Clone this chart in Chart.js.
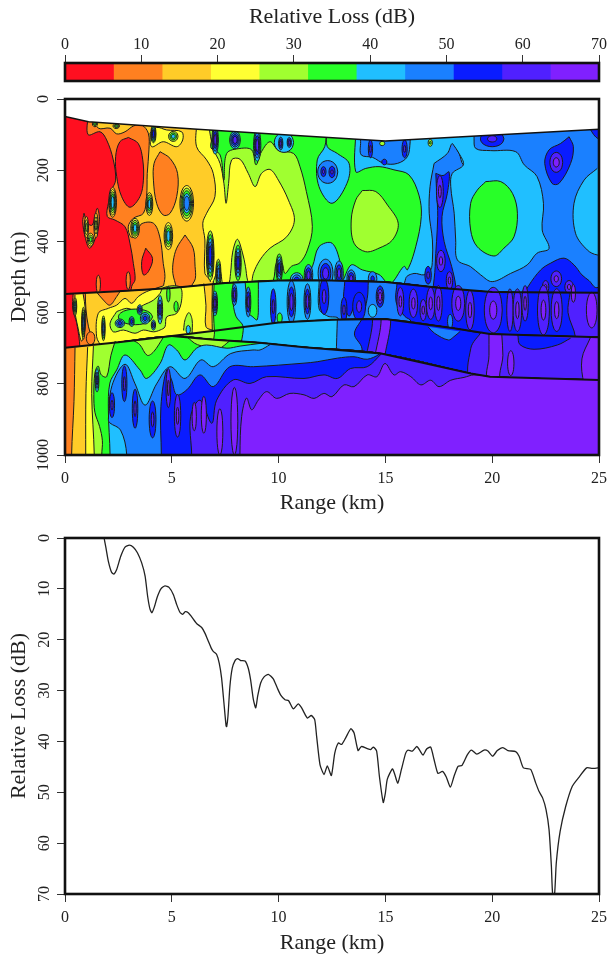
<!DOCTYPE html>
<html>
<head>
<meta charset="utf-8">
<script src="https://cdn.jsdelivr.net/npm/chart.js@4/dist/chart.umd.min.js"></script>
<style>
html, body { margin: 0; background: #fff; }
canvas { position: absolute; left: 0; filter: blur(0.4px); }
</style>
</head>
<body>
<canvas id="barCanvas" width="608" height="90" style="top:0"></canvas>
<canvas id="fieldCanvas" width="608" height="430" style="top:90px"></canvas>
<canvas id="lossCanvas" width="608" height="438" style="top:520px"></canvas>
<script>
// colour bar
const bandEdges = [0, 6.36, 12.73, 19.09, 25.45, 31.82, 38.18, 44.55, 50.91, 57.27, 63.64, 70];
const bandColors = ["#ff0f20", "#ff8020", "#ffcc28", "#ffff33", "#a0ff30", "#28ff28", "#20bfff", "#1a80ff", "#0a1cff", "#5020ff", "#8020ff"];

// range-depth interfaces [km, m]
const surfaceLine = [[-1,45],[0,49],[1.1,64],[4.45,78],[6.2,85],[11.2,104],[15,118],[25,85],[26,82]];
const interfaceA = [[-1,550],[0,548],[2.5,540],[5,531],[7.5,517],[10,510],[12.5,510],[15,514],[17.5,530],[20,542],[25,544],[26,544]];
const interfaceB = [[-1,705],[0,699],[2.5,683],[5,666],[7,651],[10,628],[12.5,620],[15,618],[18.2,644],[19.9,660],[25,669],[26,670]];
const interfaceC = [[5,666],[7,676],[9,684],[11.2,697],[14.8,715],[19,771],[19.9,780],[25,789],[26,790]];
const floorTop = [[-1,705],[0,699],[2.5,683],[5,666],[7,676],[9,684],[11.2,697],[14.8,715],[19,771],[19.9,780],[25,789],[26,790]];

// upper water: contours, painted in this order
const upOrange = [[1.09,40],[1.08,100],[1.64,92],[1.95,115],[2.26,171],[2.37,228],[2.18,256],[2.03,293],[1.98,330],[2.34,340],[2.81,359],[3.04,405],[3.2,462],[3.28,508],[3.12,527],[3.1,600],[26,600],[26,0],[1.09,0]];
const upRedBig = [[2.97,108],[3.43,125],[3.64,171],[3.67,228],[3.51,274],[3.04,304],[2.65,274],[2.42,218],[2.37,162],[2.57,120],[2.97,108]];
const upRedSmall = [[3.78,419],[4.1,448],[3.9,485],[3.67,494],[3.59,457],[3.78,419]];
const upWedge = [[0.89,321],[1.05,349],[1.28,354],[1.51,307],[1.61,345],[1.36,401],[1.14,419],[0.94,387],[0.83,345],[0.89,321]];
const upGold = [[1.33,50],[1.56,82],[2.11,82],[2.42,98],[2.81,92],[3.2,76],[3.59,73],[3.9,96],[3.93,143],[3.85,209],[3.82,274],[3.67,321],[3.2,335],[2.96,359],[3.1,388],[3.4,383],[3.55,352],[4.14,349],[4.45,391],[4.6,462],[4.68,499],[4.6,532],[4.6,600],[26,600],[26,0],[1.33,0]];
const upOrangeEgg = [[4.45,148],[4.92,167],[5.27,209],[5.23,274],[4.92,321],[4.6,326],[4.29,293],[4.14,228],[4.17,181],[4.45,148]];
const upOrangeTongue = [[5.62,382],[6,419],[6.09,471],[6.1,505],[5.9,530],[5.9,600],[5.2,600],[5.2,530],[5.05,490],[5.07,455],[5.23,419],[5.62,382]];
const upYellowPatch = [[3.98,96],[4.06,134],[4.6,120],[5.23,134],[5.51,115],[5.46,92],[4.76,87],[4.29,80],[3.98,96]];
const upYellow = [[6.16,70],[6.16,134],[6.63,171],[6.94,209],[7.02,274],[6.63,321],[6.45,349],[6.55,396],[6.55,490],[6.8,510],[6.85,600],[26,600],[26,0],[6.16,0]];
const upLime = [[6.71,70],[6.94,139],[7.26,181],[7.44,237],[7.54,293],[7.66,237],[7.8,171],[8.19,169],[8.58,209],[8.9,246],[9.2,209],[9.6,198],[9.99,228],[10.46,284],[10.74,340],[10.38,387],[9.6,419],[9.13,452],[8.82,490],[8.7,525],[8.55,510],[8.45,471],[8.3,430],[8.07,394],[7.85,430],[7.75,490],[7.65,520],[7.4,520],[7.3,490],[7.18,468],[7.05,495],[6.9,525],[6.9,600],[26,600],[26,0],[6.71,0]];
const upGreen = [[7.18,70],[6.82,134],[7.26,157],[7.44,228],[7.57,153],[8.19,139],[8.74,143],[8.94,185],[9.2,148],[9.6,120],[10,145],[10.7,153],[11,190],[11.3,260],[11.58,358],[11.35,424],[11,460],[10.6,470],[10.3,490],[10.15,460],[9.9,460],[9.75,510],[9.5,520],[9.3,540],[9.3,600],[26,600],[26,0],[7.18,0]];
const upSkyTongue = [[12.25,90],[12.16,134],[11.81,171],[11.89,246],[12.5,293],[13.2,237],[13.3,181],[12.75,153],[12.28,134],[12.25,90]];
const upSky = [[13.61,90],[13.61,204],[14.08,195],[14.7,190],[15.4,199],[16.1,213],[16.57,270],[16.68,330],[16.42,415],[16.03,480],[15.87,470],[15.2,520],[14.7,493],[13.92,480],[13.4,466],[13,508],[12.9,462],[12.5,405],[11.89,415],[11.58,471],[11.27,499],[11,530],[11,600],[26,600],[26,0],[13.61,0]];
const upLimeIsle = [[13.92,257],[14.55,260],[15.1,298],[15.6,349],[15.33,396],[14.7,419],[14.08,429],[13.53,405],[13.4,340],[13.61,284],[13.92,257]];
const upAzureTop = [[13.84,90],[13.84,120],[13.87,157],[14.4,164],[14.94,181],[15.56,181],[16.03,162],[16.16,120],[16.16,90]];
const upAzure = [[17.28,181],[17.9,153],[18.14,125],[18.45,153],[18.65,185],[19,185],[19,0],[26,0],[26,600],[15.9,600],[15.95,504],[16.34,490],[16.81,494],[17.12,480],[17.2,452],[17.2,396],[17.05,321],[17.09,246],[17.28,181]];
const upSkyMid = [[18.14,125],[18.45,153],[18.65,185],[18.13,209],[18.06,246],[18.22,321],[18.29,396],[18.37,452],[18.99,471],[19.46,494],[20,513],[20.86,490],[21.64,466],[22.1,433],[22.66,420],[22.34,368],[22.4,293],[22.1,218],[21.5,185],[21.1,148],[19.93,145],[19.23,139],[19.15,110],[19.15,70],[18.14,70]];
const upSkyRight = [[24.92,195],[24.3,228],[23.83,293],[23.9,377],[24.45,424],[24.92,438],[26,440],[26,190]];
const upGreenIsle = [[19.7,232],[20.4,232],[20.95,265],[21.18,321],[21.02,387],[20.55,419],[20.08,441],[19.3,415],[18.99,368],[18.99,293],[19.3,256],[19.7,232]];
const upDeepColumn = [[17.36,209],[17.7,215],[17.98,205],[17.9,265],[17.65,330],[17.75,400],[18.1,470],[18.3,530],[18.3,600],[17.3,600],[17.33,470],[17.45,330],[17.4,265],[17.36,209]];
const upDeepHump = [[21.4,600],[21.4,560],[21.7,525],[22.27,480],[22.74,461],[23.36,447],[23.83,466],[24.2,494],[24.53,510],[24.9,530],[26,500],[26,600]];
const upDeepBlob = [[23.6,106],[23.8,134],[23.67,181],[23.13,237],[22.8,237],[22.46,181],[22.66,143],[23.2,125],[23.6,106]];
const upDeepCorner = [[24.55,80],[24.75,100],[25,112],[26,112],[26,60]];

// middle layer, region to the right of each contour
const midOrange = [[0.38,547],[0.36,590],[0.55,630],[0.7,700],[0.7,800]];
const midYellowLeft = [[0.47,550],[0.45,590],[0.6,640],[0.78,680],[0.95,640],[0.95,590],[0.85,548]];
const midGold = [[0.95,545],[0.98,590],[1.1,640],[1.33,687],[1.33,800]];
const midOrangePatch = [[1.45,540],[1.8,565],[2.1,579],[2.42,555],[2.6,538]];
const midYellow = [[4.6,525],[3.82,541],[3.43,555],[3.12,574],[2.81,560],[2.42,579],[2.03,588],[1.56,602],[1.48,668],[1.7,700],[1.7,800]];
const midLimePatch = [[2.42,597],[2.89,588],[3.28,593],[3.67,579],[4.14,565],[4.45,546],[4.6,530],[5.38,528],[5.46,565],[5.23,602],[4.76,612],[4.68,640],[4.45,649],[4.14,654],[3.67,649],[3.28,658],[2.73,649],[2.26,654],[2.11,630],[2.42,597]];
const midLimeSmall = [[5.55,650],[5.62,620],[5.8,600],[5.95,620],[5.95,662]];
const midGoldRight = [[6.5,518],[6.6,580],[6.6,640],[6.94,645],[6.94,512]];
const midLime = [[6.9,518],[6.88,600],[6.9,660],[6.9,800]];
const midGreen = [[6.98,518],[6.95,600],[7,660],[7,800]];
const midSky = [[7.88,513],[7.85,560],[8,610],[8.35,640],[8.6,800]];
const midGreenFinger = [[8.43,512],[8.5,560],[8.55,600],[8.75,610],[9,620],[9.05,560],[9.05,510]];
const midAzure = [[11.9,508],[11.9,590],[12.3,610],[12.8,618],[12.8,800]];
const midDeepPatch = [[13.1,512],[13.05,570],[13.3,610],[13.6,580],[13.9,610],[14.15,560],[14.2,512]];
const midDeep = [[15.55,515],[15.5,570],[15.9,610],[16.2,625],[16.2,800]];
const midIndigo = [[23.65,543],[23.55,600],[23.9,670],[23.9,800]];

// wedge between interfaces B and C
const wedgeGreen = [[7,651],[7,800]];
const wedgeSky = [[8.35,640],[8.35,800]];
const wedgeAzure = [[12.75,620],[12.7,720],[12.7,800]];
const wedgeDeep = [[13.9,618],[13.55,660],[13.9,700],[13.9,800]];
const wedgeIndigo = [[14.4,618],[14.4,800]];
const wedgePurple = [[14.8,618],[14.8,800]];
const wedgeDeep2 = [[15.25,620],[15.25,800]];
const wedgeAzureBump = [[17,640],[17.3,658],[17.95,677],[18.2,668],[18.5,653]];
const wedgeIndigo2 = [[19.5,654],[19,700],[19.05,800]];
const wedgePurple2 = [[19.85,660],[19.85,720],[19.85,800]];
const wedgeIndigo3 = [[20.45,663],[20.5,720],[20.45,800]];
const wedgeDeepBump = [[21.2,663],[21.3,690],[21.96,703],[23.05,691],[23.67,672]];
const wedgePurple3 = [[24.6,670],[24.2,730],[24.3,800]];

// floor layer, value above each level to the right of the contour
const floorGold = [[0.47,698],[0.42,850],[0.31,1000],[0.31,1200]];
const floorYellow = [[1.06,697],[0.98,827],[0.97,1000],[0.97,1200]];
const floorLime = [[1.33,694],[1.25,827],[1.37,1000],[1.37,1200]];
const floorGreen = [[2.35,680],[2.15,720],[1.95,780],[1.7,775],[1.55,750],[1.4,770],[1.35,830],[1.4,880],[1.62,920],[1.75,960],[1.72,1000],[1.72,1200]];
const floorLimeHumpA = [[3.2,678],[3.5,690],[3.85,720],[4.15,710],[4.6,670]];
const floorLimeHumpB = [[5.7,668],[6.2,690],[7.2,700],[7.7,680]];
const floorSky = [[9.2,686],[8.2,694],[7.58,700],[6.63,691],[6.16,700],[5.62,733],[5.23,705],[4.84,691],[4.45,743],[3.82,785],[3.51,761],[2.81,719],[2.42,761],[2.1,798],[2.03,874],[2.11,1000],[2.11,1200]];
const floorAzure = [[9.6,690],[9.13,705],[8.8,705],[7.76,715],[6.94,752],[6.36,733],[5.62,785],[4.92,752],[4.29,800],[3.75,860],[3.28,800],[2.81,745],[2.2,805],[2.03,900],[2.1,910],[2.6,930],[2.89,1000],[2.89,1200]];
const floorDeep = [[14.6,714],[14.71,717],[14.15,731],[13.53,724],[12.75,728],[11.81,738],[11.19,742],[8.82,752],[7.72,752],[6.94,808],[6.32,775],[5.7,817],[5.23,831],[4.99,789],[4.76,761],[4.49,864],[4.51,1000],[4.51,1200]];
const floorIndigo = [[14.81,716],[14.15,752],[13.37,757],[12.75,785],[12.13,775],[11.19,785],[9.44,780],[8.66,799],[7.88,789],[7.1,846],[6.87,911],[6.32,846],[5.88,892],[5.93,1000],[5.93,1200]];
const floorPurple = [[19.93,780],[19.15,775],[18.68,782],[18.06,790],[17.51,808],[17.12,790],[16.66,803],[16.19,780],[15.71,766],[15.4,775],[14.98,743],[14.6,780],[14.15,775],[13.53,808],[13.06,803],[12.5,836],[12.12,827],[11.66,841],[11.19,831],[10.53,827],[9.91,841],[9.44,822],[9.05,846],[8.74,873],[8.5,840],[8.27,892],[8.19,1000],[8.19,1200]];

// closed pockets: km, depth, half width, half height, outer band, inner band
const upperSpots = [
  [1,360,.1,30,2,4],[1.45,355,.1,35,2,4],[1.2,395,.15,18,3,5],[2.23,290,.18,42,2,6],[3.95,295,.16,32,3,6],
  [5.7,293,.32,50,3,7],[3.28,363,.2,28,3,6],[4.84,385,.2,38,3,6],[6.8,440,.18,70,4,8],[7.18,490,.12,40,4,7],
  [8.1,460,.15,50,5,8],[10.03,475,.15,40,5,8],[10.85,508,.3,20,6,8],[4.14,98,.12,25,4,8],[5.07,105,.22,14,4,6],
  [1.4,70,.12,8,3,5],[2.4,76,.15,7,3,5],[7.03,115,.15,40,6,9],[7.96,115,.25,25,6,9],[9,130,.17,45,6,9],
  [10.25,122,.45,28,6,6],[10.1,125,.1,18,7,9],[10.5,122,.1,14,7,9],[12.3,205,.47,32,7,7],[12.1,204,.12,14,8,9],[12.5,205,.14,16,8,9],[14.85,125,.12,6,4,4],
  [17.1,123,.1,10,4,5],[14.3,140,.1,25,8,9],[14.95,177,.12,8,8,8],[15.9,140,.12,25,8,9],[20,112,.55,22,8,9],
  [23,178,.3,28,9,9],[23,178,.14,13,10,10],[17.55,260,.16,45,9,10],[17.6,455,.2,30,9,10],[18,510,.15,25,9,10],
  [12.2,490,.35,40,7,9],[12.83,490,.2,35,7,9],[11.4,495,.2,30,7,9],[13.4,505,.2,25,7,9],[14.4,505,.2,20,7,8],
  [17,495,.15,25,8,9],[23,505,.25,22,9,10],[22.5,528,.15,18,9,10],[23.6,528,.2,18,9,10],[1.56,520,.1,25,1,1],[2.96,510,.1,25,1,1]
];
const middleSpots = [
  [.86,630,.08,45,3,7],[1.8,644,.08,35,4,7],[.47,583,.08,25,3,6],[1.2,672,.2,18,1,1],[3.3,612,.8,22,5,5],
  [2.57,630,.22,12,6,8],[3.12,625,.12,14,6,8],[3.75,616,.22,16,6,8],[3.5,592,.12,14,6,8],[4.14,635,.1,14,6,8],[4.45,592,.12,40,6,8],
  [5.77,648,.1,12,6,6],[4.84,548,.08,22,5,5],[5.2,583,.1,15,5,5],[7.02,574,.12,35,6,9],[7.93,550,.12,30,7,9],
  [8.58,570,.12,42,7,9],[10.05,615,.12,14,5,5],[9.75,583,.13,50,8,9],[10.6,570,.2,60,7,9],[11.35,569,.16,50,7,9],[12.13,555,.22,50,8,9],
  [13.06,592,.14,35,8,9],[13.77,583,.3,40,8,9],[14.4,595,.2,18,6,6],[14.75,555,.18,30,8,10],[15.7,569,.16,40,9,10],
  [18.03,625,.12,20,7,7],[16.31,574,.2,40,9,10],[16.77,593,.15,30,9,10],[17.12,574,.2,45,9,10],[17.48,574,.18,50,9,10],[18.41,574,.3,50,9,10],
  [18.96,593,.2,55,9,10],[20.05,593,.42,64,9,10],[20.83,593,.15,60,9,9],[21.18,593,.2,60,9,10],[21.54,574,.15,50,9,10],[22.4,593,.28,70,9,10],
  [23.02,593,.26,60,9,10]
];
const middleSpotsRight = [[24.66,593,.25,50,10,10],[23.8,546,.1,25,10,10]];
const floorSpots = [
  [1.5,790,.09,33,6,8],[2.2,860,.12,35,8,9],[2.78,800,.12,50,8,9],[3.28,870,.13,55,8,9],[4.1,900,.16,52,8,9],
  [4.84,812,.11,55,9,10],[5.27,890,.15,60,9,10],[6.05,892,.1,40,10,10],[6.5,887,.12,52,10,10],[7.25,935,.14,65,10,10],[7.93,905,.16,95,10,10]
];
const wedgeSpots = [[20.87,742,.15,35,10,10]];

// lower panel: loss along range
const rangeKm = [1.83,1.92,2.03,2.18,2.29,2.42,2.61,2.81,3.01,3.2,3.39,3.59,3.75,3.87,3.98,4.07,4.18,4.32,4.49,4.68,4.87,5.07,5.23,5.38,5.51,5.63,5.77,5.93,6.16,6.4,6.55,6.71,6.84,6.94,7.1,7.22,7.33,7.44,7.54,7.57,7.63,7.72,7.83,7.96,8.08,8.22,8.43,8.58,8.69,8.82,8.93,9.02,9.16,9.32,9.52,9.75,9.94,10.1,10.3,10.47,10.69,10.92,11.08,11.19,11.35,11.53,11.69,11.78,11.94,12.13,12.28,12.47,12.63,12.8,12.95,13.14,13.38,13.53,13.72,13.87,14.15,14.31,14.44,14.59,14.72,14.9,15,15.09,15.33,15.44,15.58,15.75,15.95,16.06,16.26,16.47,16.63,16.76,16.93,17.12,17.28,17.46,17.67,17.85,18.04,18.21,18.4,18.59,18.84,19.03,19.28,19.62,19.8,20.02,20.24,20.5,20.74,21.1,21.26,21.46,21.8,22.04,22.19,22.36,22.52,22.66,22.77,22.83,22.92,23,23.18,23.44,23.75,24.07,24.42,24.69,24.95,25];
const lossDb = [0,2,4.6,6.75,7.1,6.2,3.6,1.8,1.4,1.8,2.9,4.9,7.5,11.5,14,14.7,13.6,11.6,10,9.4,9.7,11.1,13.1,14.6,15,14.5,14.7,15.5,16.8,17.6,18.7,20.3,21.6,22.3,22.9,24.6,27.5,32.4,36.9,37.1,35,29.2,25.6,24.1,23.7,24.1,24.2,25.6,27.9,31.8,33.4,31.1,28.5,27.3,26.8,27.7,29.5,30.9,31.8,32,33.6,32.6,33.4,34.3,35.4,34.9,35.7,39,44.6,46.5,44.8,46.7,42.3,40.3,40.6,39.3,37.5,38.3,41.8,41,41.4,41.6,41.1,41.9,46.9,52,50.1,47.4,45.4,46.5,48.2,45.5,42.3,41.7,41.9,41,41.9,42.7,41.5,41.1,43.6,46.3,45.9,47,49,46.9,44.9,44.7,42.6,41.7,42.5,41.7,41.9,42.9,41.8,41.2,41.8,42,42.9,45.2,45.5,48.2,49.8,51.1,53.4,57.3,64.5,70,70,63.9,57.7,52.8,48.8,47,45.2,45.3,45.2,45.1];

const serif = "'Liberation Serif', serif";
const inkColor = "#1c1c1c";
Chart.defaults.animation = false;
Chart.defaults.events = [];
Chart.defaults.responsive = false;
Chart.defaults.font.family = serif;
Chart.defaults.color = "#222";
Chart.defaults.plugins.legend.display = false;
Chart.defaults.plugins.tooltip.enabled = false;

const framePlugin = {
  id: "frame",
  afterDraw(chart) {
    const a = chart.chartArea, ctx = chart.ctx;
    ctx.save();
    ctx.strokeStyle = "#111";
    ctx.lineWidth = 2.6;
    ctx.strokeRect(a.left, a.top, a.right - a.left, a.bottom - a.top);
    ctx.restore();
  }
};
function noEdgePadding(s) { s.paddingLeft = 0; s.paddingRight = 0; s.paddingTop = 0; s.paddingBottom = 0; }

function rangeAxis(title, fixedHeight, titleGap) {
  return {
    type: "linear", min: 0, max: 25,
    grid: { display: true, drawOnChartArea: false, drawTicks: true, tickLength: 8, tickColor: "#333", lineWidth: 1 },
    border: { display: false },
    ticks: { stepSize: 5, font: { size: 16 }, padding: 6, maxRotation: 0, autoSkip: false },
    title: { display: true, text: title, font: { size: 22 }, padding: { top: 0, bottom: titleGap } },
    afterFit(s) { s.height = fixedHeight; noEdgePadding(s); }
  };
}
function depthAxis(title, max, step, tickGap) {
  return {
    type: "linear", reverse: true, min: 0, max: max,
    grid: { display: true, drawOnChartArea: false, drawTicks: true, tickLength: 8, tickColor: "#333", lineWidth: 1 },
    border: { display: false },
    ticks: { stepSize: step, font: { size: 16 }, padding: tickGap, minRotation: 90, maxRotation: 90, crossAlign: "center", autoSkip: false, callback: v => String(v) },
    title: { display: true, text: title, font: { size: 22 }, padding: { top: 6, bottom: 0 } },
    afterFit(s) { s.width = 65; noEdgePadding(s); }
  };
}

// colour bar
new Chart(document.getElementById("barCanvas"), {
  type: "bar",
  data: {
    labels: [""],
    datasets: bandColors.map((c, i) => ({
      data: [[bandEdges[i], bandEdges[i + 1]]], backgroundColor: c, borderWidth: 0,
      barPercentage: 1, categoryPercentage: 1, grouped: false
    }))
  },
  options: {
    indexAxis: "y",
    layout: { padding: { left: 65, right: 9, bottom: 9 } },
    scales: {
      x: {
        type: "linear", position: "top", min: 0, max: 70,
        grid: { display: true, drawOnChartArea: false, drawTicks: true, tickLength: 8, tickColor: "#333" },
        border: { display: false },
        ticks: { stepSize: 10, font: { size: 16 }, padding: 1, maxRotation: 0 },
        title: { display: true, text: "Relative Loss (dB)", font: { size: 22 }, padding: { top: 4, bottom: 0 } },
        afterFit(s) { s.height = 63; noEdgePadding(s); }
      },
      y: { display: false }
    }
  },
  plugins: [framePlugin]
});

// contour field
const paint = [];
function shape(points, band, extra) {
  paint.push(Object.assign({
    data: points.map(p => ({ x: p[0], y: p[1] })),
    backgroundColor: bandColors[band], borderColor: inkColor, borderWidth: 1,
    fill: "shape", tension: 0.35, pointRadius: 0
  }, extra || {}));
}
function plain(points, band) { shape(points, band, { tension: 0, borderWidth: 0 }); }
// contour, then down the far side and back along the interface above it
function below(contour, iface, band) {
  const start = contour[0][0];
  const back = iface.filter(p => p[0] > start).reverse();
  shape([...contour, [26, 1200], ...back], band);
}
const ringAngles = [[1,0],[.87,.5],[.5,.87],[0,1],[-.5,.87],[-.87,.5],[-1,0],[-.87,-.5],[-.5,-.87],[0,-1],[.5,-.87],[.87,-.5],[1,0]];
function spots(rows) {
  rows.forEach(r => {
    const rings = r[5] - r[4] + 1;
    for (let k = 0; k < rings; k++) {
      const f = rings > 1 ? 1 - k * 0.6 / (rings - 1) : 1;
      shape(ringAngles.map(a => [r[0] + a[0] * r[2] * f, r[1] + a[1] * r[3] * f]), r[4] + k);
    }
  });
}
function line(points, width) {
  paint.push({ data: points.map(p => ({ x: p[0], y: p[1] })), borderColor: "#111", borderWidth: width, fill: false, tension: 0, pointRadius: 0 });
}

plain([[-1,0],[26,0],[26,620],[-1,620]], 0);
shape(upOrange, 1); shape(upRedBig, 0); shape(upRedSmall, 0); shape(upWedge, 1);
shape(upGold, 2); shape(upOrangeEgg, 1); shape(upOrangeTongue, 1); shape(upYellowPatch, 3);
shape(upYellow, 3); shape(upLime, 4); shape(upGreen, 5); shape(upSkyTongue, 6); shape(upSky, 6);
shape(upLimeIsle, 4); shape(upAzureTop, 7); shape(upAzure, 7); shape(upSkyMid, 6); shape(upSkyRight, 6);
shape(upGreenIsle, 5); shape(upDeepColumn, 8); shape(upDeepHump, 8); shape(upDeepBlob, 8); shape(upDeepCorner, 8);
spots(upperSpots);

plain([...interfaceA, ...interfaceB.slice().reverse()], 0);
below(midOrange, interfaceA, 1); shape(midYellowLeft, 3); below(midGold, interfaceA, 2); shape(midOrangePatch, 1);
below(midYellow, interfaceA, 3); shape(midLimePatch, 4); shape(midLimeSmall, 4); shape(midGoldRight, 2); below(midLime, interfaceA, 4); below(midGreen, interfaceA, 5);
below(midSky, interfaceA, 6); shape(midGreenFinger, 5); below(midAzure, interfaceA, 7); shape(midDeepPatch, 8); below(midDeep, interfaceA, 8);
spots(middleSpots);
below(midIndigo, interfaceA, 9);
spots(middleSpotsRight);

const wedgeTop = interfaceB.filter(p => p[0] >= 5);
plain([...wedgeTop, ...interfaceC.slice().reverse()], 4);
below(wedgeGreen, wedgeTop, 5); below(wedgeSky, wedgeTop, 6); below(wedgeAzure, wedgeTop, 7); below(wedgeDeep, wedgeTop, 8);
below(wedgeIndigo, wedgeTop, 9); below(wedgePurple, wedgeTop, 10); below(wedgeDeep2, wedgeTop, 8); shape(wedgeAzureBump, 7);
below(wedgeIndigo2, wedgeTop, 9); below(wedgePurple2, wedgeTop, 10); below(wedgeIndigo3, wedgeTop, 9); shape(wedgeDeepBump, 8);
below(wedgePurple3, wedgeTop, 10);
spots(wedgeSpots);

plain([...floorTop, [26,1200], [-1,1200]], 1);
below(floorGold, floorTop, 2); below(floorYellow, floorTop, 3); below(floorLime, floorTop, 4); below(floorGreen, floorTop, 5);
shape(floorLimeHumpA, 4); shape(floorLimeHumpB, 4);
below(floorSky, floorTop, 6); below(floorAzure, floorTop, 7); below(floorDeep, floorTop, 8); below(floorIndigo, floorTop, 9);
below(floorPurple, floorTop, 10);
spots(floorSpots);

// white water column above the surface line
shape([...surfaceLine, [26,-50], [-1,-50]], 0, { backgroundColor: "#fff", borderWidth: 0, tension: 0 });
line(surfaceLine, 1.6);
line(interfaceA, 2);
line(interfaceB, 2);
line(interfaceC, 2);

new Chart(document.getElementById("fieldCanvas"), {
  type: "line",
  data: { datasets: paint.reverse() },
  options: {
    layout: { padding: { right: 9, top: 9 } },
    scales: { x: rangeAxis("Range (km)", 65, 4), y: depthAxis("Depth (m)", 1000, 200, -3) }
  },
  plugins: [framePlugin]
});

// loss curve
new Chart(document.getElementById("lossCanvas"), {
  type: "line",
  data: {
    datasets: [{
      data: rangeKm.map((km, i) => ({ x: km, y: lossDb[i] })),
      borderColor: "#222", borderWidth: 1.3, tension: 0.2, pointRadius: 0, fill: false
    }]
  },
  options: {
    layout: { padding: { right: 9, top: 18 } },
    scales: { x: rangeAxis("Range (km)", 64, 2), y: depthAxis("Relative Loss (dB)", 70, 10, 4) }
  },
  plugins: [framePlugin]
});
</script>
</body>
</html>
